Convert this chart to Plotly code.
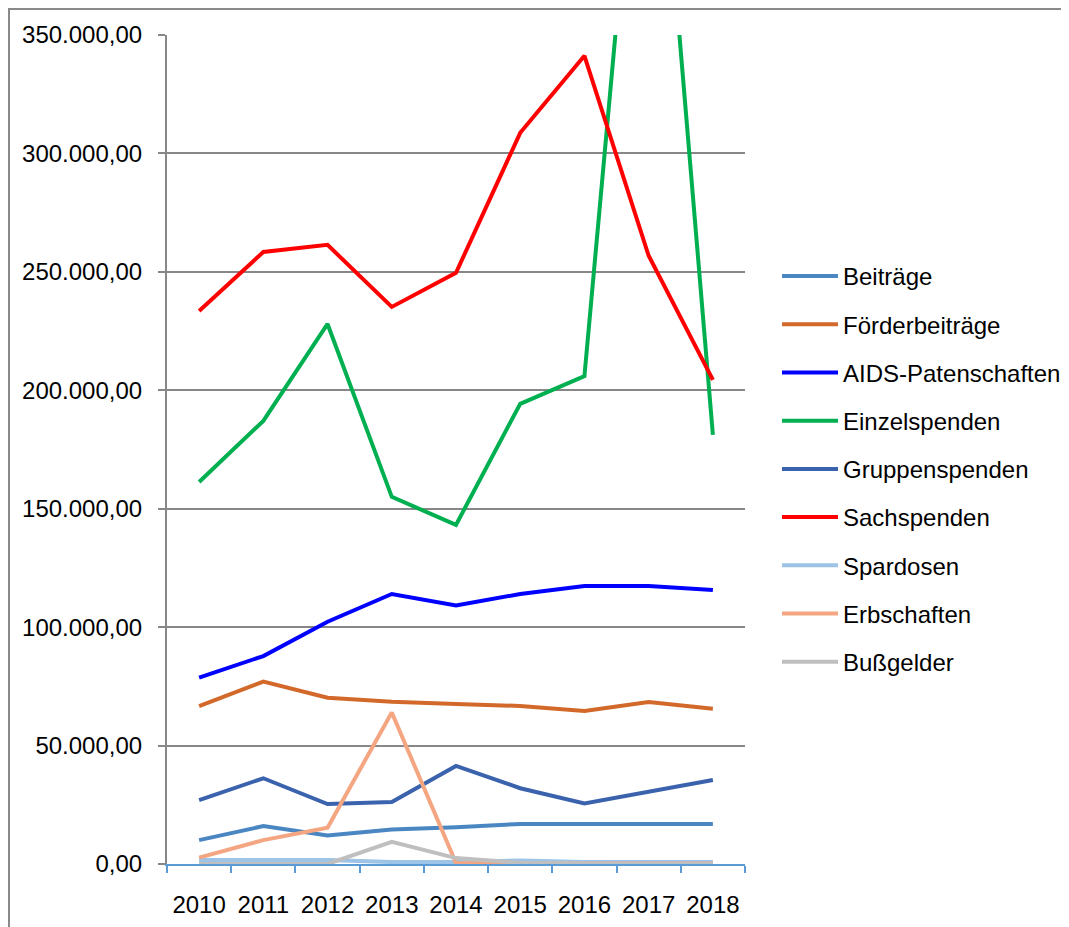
import plotly.graph_objects as go

years = ["2010", "2011", "2012", "2013", "2014", "2015", "2016", "2017", "2018"]

beitraege = [10100, 16000, 12000, 14600, 15500, 16900, 16900, 16900, 16900]
foerderbeitraege = [66700, 77000, 70200, 68500, 67600, 66700, 64600, 68400, 65500]
aids_patenschaften = [78700, 87800, 102300, 114000, 109100, 114000, 117400, 117400, 115700]
einzelspenden = [161300, 187100, 228000, 155000, 143200, 194300, 206000, 505000, 181200]
gruppenspenden = [27000, 36200, 25300, 26200, 41400, 32000, 25600, 30500, 35500]
sachspenden = [233500, 258400, 261400, 235200, 249600, 308700, 341200, 256800, 204400]
spardosen = [1700, 1700, 1700, 800, 800, 1500, 800, 800, 800]
erbschaften = [2700, 10100, 15300, 64000, 400, 200, 200, 200, 200]
bussgelder = [0, 0, 0, 9400, 2500, 500, 200, 200, 200]

series = [
    ("Beiträge", beitraege, "#4a87c2"),
    ("Förderbeiträge", foerderbeitraege, "#d2692a"),
    ("AIDS-Patenschaften", aids_patenschaften, "#0000ff"),
    ("Einzelspenden", einzelspenden, "#00b050"),
    ("Gruppenspenden", gruppenspenden, "#3a62ad"),
    ("Sachspenden", sachspenden, "#ff0000"),
    ("Spardosen", spardosen, "#9dc3e6"),
    ("Erbschaften", erbschaften, "#f4a582"),
    ("Bußgelder", bussgelder, "#bfbfbf"),
]

FONT = "Liberation Sans"
FS = 24

fig = go.Figure()
for name, vals, color in series:
    fig.add_trace(go.Scatter(
        x=years, y=vals, name=name, mode="lines",
        line=dict(color=color, width=4),
        legendgroup=name,
    ))

W, H = 1069, 927
L, R, T, B = 159, 332, 27, 71
pw = W - L - R
ph = H - T - B
bottom = H - B

fig.update_layout(
    width=W, height=H,
    margin=dict(l=L, r=R, t=T, b=B, autoexpand=False),
    paper_bgcolor="white", plot_bgcolor="white",
    font=dict(family=FONT, size=FS, color="#000000"),
    separators=",.",
    showlegend=True,
    legend=dict(
        x=(769 - L) / pw, xanchor="left", xref="paper",
        y=(bottom - 246) / ph, yref="paper", yanchor="top",
        traceorder="grouped", tracegroupgap=14,
        itemwidth=56,
        font=dict(family=FONT, size=FS, color="#000000"),
        bgcolor="rgba(0,0,0,0)",
    ),
    xaxis=dict(
        type="category",
        range=[-0.5, 8.5],
        showgrid=False,
        showline=True, linecolor="#5b9bd5", linewidth=2,
        ticks="outside", tickson="boundaries", ticklen=7, tickwidth=2, tickcolor="#5b9bd5",
        ticklabelstandoff=18,
        tickfont=dict(family=FONT, size=FS, color="#000000"),
        zeroline=False,
    ),
    yaxis=dict(
        range=[0, 350000],
        tick0=0, dtick=50000,
        tickformat=",.2f",
        showgrid=True, gridcolor="#878787", gridwidth=2,
        showline=True, linecolor="#878787", linewidth=2,
        ticks="outside", ticklen=7, tickwidth=2, tickcolor="#878787",
        ticklabelstandoff=11,
        tickfont=dict(family=FONT, size=FS, color="#000000"),
        zeroline=False,
    ),
)

fig.add_shape(
    type="rect", xref="paper", yref="paper",
    x0=(1 - L) / pw, x1=(1090 - L) / pw,
    y0=(bottom - 960) / ph, y1=(bottom - 1) / ph,
    line=dict(color="#898989", width=2),
    fillcolor="rgba(0,0,0,0)", layer="below",
)

fig.write_html("out.html")
